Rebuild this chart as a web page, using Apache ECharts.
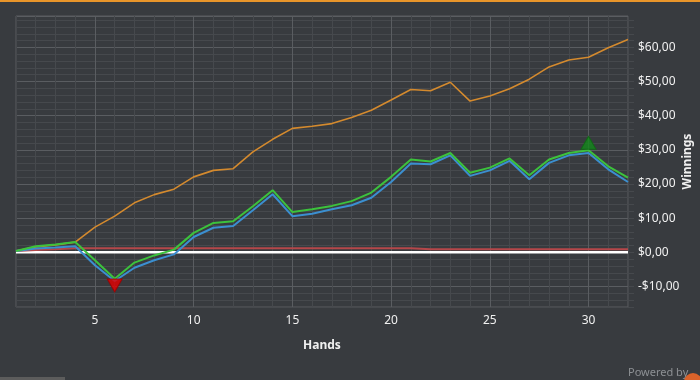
<!DOCTYPE html>
<html>
<head>
<meta charset="utf-8">
<script src="https://cdn.jsdelivr.net/npm/echarts@6/dist/echarts.min.js"></script>
<style>
html,body{margin:0;padding:0;background:#383b3f;}
#c{width:700px;height:380px;}
</style>
</head>
<body>
<div id="c"></div>
<script>
var hands = [1,2,3,4,5,6,7,8,9,10,11,12,13,14,15,16,17,18,19,20,21,22,23,24,25,26,27,28,29,30,31,32];
var orangeVals = [0.4,1.6,2.2,3.0,7.4,10.6,14.5,16.9,18.5,22.1,24.0,24.5,29.4,33.1,36.3,36.9,37.7,39.5,41.6,44.6,47.7,47.3,49.8,44.3,45.8,47.9,50.7,54.3,56.3,57.1,59.9,62.3];
var greenVals = [0.4,1.8,2.3,3.0,-2.3,-7.7,-3.0,-0.9,0.8,5.7,8.6,9.1,13.5,18.2,11.8,12.6,13.6,15.0,17.5,22.1,27.2,26.6,29.1,23.3,24.8,27.5,22.6,27.2,29.1,29.9,25.2,21.9];
var blueVals = [0.4,1.1,1.4,1.8,-3.8,-8.4,-4.5,-2.3,-0.6,4.5,7.2,7.7,12.3,17.0,10.6,11.3,12.6,13.8,16.0,20.6,26.0,25.8,28.4,22.4,24.0,26.8,21.4,26.2,28.4,29.1,24.3,20.6];
var redVals = [0.4,0.7,0.9,1.2,1.2,1.2,1.2,1.2,1.2,1.2,1.2,1.2,1.2,1.2,1.2,1.2,1.2,1.2,1.2,1.2,1.2,0.9,0.9,0.9,0.9,0.9,0.9,0.9,0.9,0.9,0.9,0.9];
var zeroVals = [0,0,0,0,0,0,0,0,0,0,0,0,0,0,0,0,0,0,0,0,0,0,0,0,0,0,0,0,0,0,0,0];
var minMarker = [6, -9.7];
var maxMarker = [30, 32.1];
var xLabelTicks = [5,10,15,20,25,30];
var yLabelTicks = [-10,0,10,20,30,40,50,60];

function pairs(v){ return hands.map(function(h,i){ return [h, v[i]]; }); }
function money(v){
  var s = '$' + Math.abs(v).toFixed(2).replace('.', ',');
  return v < 0 ? '-' + s : s;
}
var minorC = '#46494d', majorC = '#5a5d61';
var chart = echarts.init(document.getElementById('c'), null, {renderer:'canvas'});
var FONT = 'Noto Sans';
chart.setOption({
  backgroundColor: '#383b3f',
  animation: false,
  grid: {left:16, top:16, right:72, bottom:73, show:true, borderColor:majorC, borderWidth:1,
         backgroundColor:'transparent', containLabel:false, outerBoundsMode:'none'},
  xAxis: {
    type:'value', min:1, max:32, interval:1,
    name:'Hands', nameLocation:'middle', nameGap:33, nameMoveOverlap:false,
    nameTextStyle:{color:'#f0f0f0', fontWeight:'bold', fontSize:12, fontFamily:FONT},
    axisLine:{show:false},
    axisTick:{show:true, length:4, lineStyle:{color:minorC}},
    axisLabel:{color:'#f0f0f0', fontSize:12, fontFamily:FONT, margin:8,
      formatter:function(v){ return xLabelTicks.indexOf(v) >= 0 ? String(v) : ''; }},
    splitLine:{show:true, lineStyle:{color:[minorC,minorC,minorC,minorC,majorC], width:1}}
  },
  yAxis: {
    type:'value', position:'right', min:-16, max:69.2, interval:2,
    name:'Winnings', nameLocation:'middle', nameGap:54, nameRotate:90, nameMoveOverlap:false,
    nameTextStyle:{color:'#f0f0f0', fontWeight:'bold', fontSize:12, fontFamily:FONT},
    axisLine:{show:false},
    axisTick:{show:true, length:6, lineStyle:{color:minorC}},
    axisLabel:{color:'#f0f0f0', fontSize:12, fontFamily:FONT, margin:10, showMaxLabel:false,
      formatter:function(v){ return yLabelTicks.indexOf(Math.round(v*10)/10) >= 0 ? money(v) : ''; }},
    splitLine:{show:true, lineStyle:{color:[minorC,minorC,minorC,majorC,minorC], width:1}}
  },
  series: [
    {type:'line', data:pairs(zeroVals), showSymbol:false, lineStyle:{color:'#ffffff', width:2.5}, z:2},
    {type:'line', data:pairs(redVals), showSymbol:false, lineStyle:{color:'#b5474a', width:2}, z:3},
    {type:'line', data:pairs(orangeVals), showSymbol:false, lineStyle:{color:'#d48a2e', width:1.6}, z:4},
    {type:'line', data:pairs(blueVals), showSymbol:false, lineStyle:{color:'#3b8fd0', width:2}, z:5},
    {type:'line', data:pairs(greenVals), showSymbol:false, lineStyle:{color:'#3cc23c', width:2}, z:6},
    {type:'scatter', data:[minMarker], symbol:'triangle', symbolRotate:180, symbolSize:[15,13],
      itemStyle:{color:'#e60000', borderColor:'#9a0000', borderWidth:1}, z:7},
    {type:'scatter', data:[maxMarker], symbol:'triangle', symbolSize:[15,13],
      itemStyle:{color:'#138a1c', borderColor:'#0c6a12', borderWidth:1}, z:7}
  ],
  graphic: [
    {type:'rect', left:0, top:0, shape:{width:700, height:2}, style:{fill:'#e8952a'}},
    {type:'rect', left:0, top:377, shape:{width:65, height:3}, style:{fill:'#5c5c5c'}},
    {type:'text', left:628, top:367, style:{text:'Powered by', fill:'#8d9094', font:'11px "Noto Sans"'}},
    {type:'circle', left:684, top:373, shape:{r:9}, style:{fill:'#d9622a'}}
  ]
});
</script>
</body>
</html>
